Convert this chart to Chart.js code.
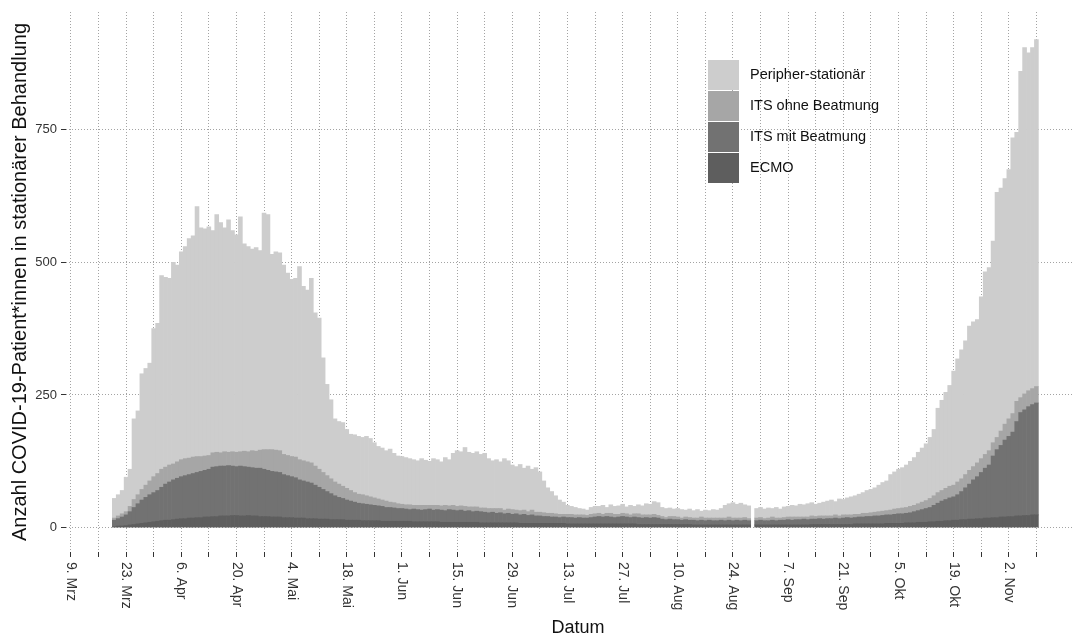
<!DOCTYPE html>
<html lang="de">
<head>
<meta charset="utf-8">
<title>COVID-19-Patient*innen in stationärer Behandlung</title>
<script src="https://cdn.jsdelivr.net/npm/chart.js@4.4.1/dist/chart.umd.min.js"></script>
<style>
  html, body { margin: 0; padding: 0; background: #ffffff; overflow: hidden; }
  #wrap { width: 1073px; height: 639px; overflow: hidden; }
</style>
</head>
<body>
<div id="wrap"><canvas id="chart" width="1090" height="639"></canvas></div>
<script>
// Tag 0 = 9. März 2020; die erste Tagesmeldung stammt vom 20. März (Tag 11).
// Am 29. August (Tag 173) fehlt die Meldung.
const FIRST_DAY = 11;

const ecmo = [
  2,3,3,4,5,6,7,8,9,10, 11,12,13,14,14,15,16,17,17,18,18,19,19,20,20,
  21,21,22,22,22,23,23,22,22,23,22,22,21,21,21,20,20,20,19,19,19,
  18,18,18,17,17,17,16,16,16,15,15,15,15,14,14,14,14,13,13,13,13,13,12,12,12,12,12,12,
  12,12,11,11,11,11,11,11,11,10,10,10,10,10,10,10,10,10,10,9,9,
  9,9,9,9,9,9,9,9,8,8,8,8,8,8,
  8,8,8,8,8,8,7,7,7,7,7,7,7,7,
  7,7,7,7,7,7,7,7,7,7,6,6,6,6,6,6,
  6,6,6,6,6,6,6,6,5,5,5,5,5,5,5,5,5,5,5,5,5,5,5,
  null,
  5,5,5,5,5,5,5,5,5,5,5,5,5,5,6,6,6,6,6,6,6,6,6,6,6,7,7,7,7,7,
  7,7,7,8,8,8,8,8,9,9,9,10,10,10,11,11,
  12,12,13,13,14,14,15,15,16,16,17,17,18,18,19,19,20,20,21,21,22,22,23,23,24,24
];

const itsMitBeatmung = [
  12,14,17,20,25,32,38,44,48,52, 55,58,63,68,72,75,77,79,81,82,84,85,87,88,90,
  93,94,94,94,95,93,92,94,93,91,91,90,91,89,87,86,85,84,81,79,77,
  76,72,70,69,67,63,60,56,52,49,45,42,40,38,36,34,32,32,31,30,29,28,28,26,26,25,24,24,
  23,22,24,23,22,23,24,22,23,23,22,24,23,22,23,21,22,20,21,21,20,
  19,20,18,19,17,18,16,17,16,17,15,16,14,14,
  13,13,12,12,11,12,12,12,11,12,11,11,12,13,
  14,13,14,13,12,13,14,13,12,13,13,12,13,12,13,12,
  10,9,10,9,9,8,9,8,9,8,9,8,9,8,8,9,8,9,8,9,8,9,8,
  null,
  8,9,8,8,9,8,9,9,10,9,10,10,11,10,10,10,11,10,11,11,12,11,12,13,12,12,13,13,14,14,
  15,15,16,16,16,17,18,18,18,19,21,22,24,26,27,31,
  34,38,40,43,44,48,53,60,66,74,79,87,94,100,116,128,135,145,151,159,178,195,199,205,208,211
];

const itsOhneBeatmung = [
  4,5,6,6,10,15,17,20,23,26, 30,32,34,32,32,30,31,32,32,31,31,30,28,27,26,
  27,27,25,27,25,27,27,27,29,29,32,32,34,37,39,41,41,41,38,38,38,
  39,38,38,38,38,36,34,32,30,28,26,25,23,22,20,18,17,17,16,15,14,13,12,12,10,10,9,8,
  8,9,7,8,9,8,7,9,8,8,10,7,9,8,8,9,7,9,8,7,8,
  8,7,9,8,7,8,9,7,8,8,7,9,7,7,
  7,6,7,6,6,5,6,6,6,5,6,5,6,6,
  6,5,6,7,6,5,6,6,5,6,7,6,5,6,6,5,
  5,4,5,6,5,4,5,5,4,5,6,5,4,5,5,4,5,6,5,4,5,5,4,
  null,
  5,5,4,5,6,5,4,5,5,6,5,5,4,5,6,5,5,6,5,5,6,5,6,5,6,6,5,7,6,7,
  7,8,8,8,9,10,10,11,11,12,12,13,14,15,17,18,
  20,20,21,22,22,24,24,25,26,25,26,26,26,27,25,23,27,30,33,35,38,28,30,30,30,31
];

const peripherStationaer = [
  37,40,44,65,70,152,158,218,220,222, 279,283,365,358,352,380,371,392,400,414,417,471,431,428,431,
  419,448,434,422,438,417,410,443,391,387,380,384,376,446,443,368,374,373,357,344,334,
  337,364,329,324,348,289,285,216,172,149,119,118,120,111,106,109,109,108,112,110,104,99,98,95,100,93,90,90,
  89,87,86,84,88,85,83,88,86,83,90,87,98,105,102,111,103,101,104,101,103,
  94,90,92,88,97,91,84,82,87,79,86,77,84,76,
  60,48,41,34,27,23,17,15,14,12,11,10,13,14,
  13,17,11,16,15,16,17,13,18,14,17,17,21,20,24,24,
  17,17,16,14,16,16,13,16,14,16,11,15,14,16,15,18,24,25,29,26,28,24,24,
  null,
  18,19,18,19,16,20,17,20,20,22,21,24,23,25,25,23,24,26,28,30,25,32,29,32,34,35,38,39,43,44,
  46,50,54,56,67,70,74,76,80,85,90,97,102,107,115,125,
  159,170,181,190,215,232,243,252,272,273,270,305,344,345,380,462,458,463,470,520,507,615,653,637,643,654
];

// Wöchentliche Achsenmarken (Tage ab 9. März), beschriftet wird jede zweite
const tickDays = [0,7,14,21,28,35,42,49,56,63,70,77,84,91,98,105,112,119,126,133,
                  140,147,154,161,168,175,182,189,196,203,210,217,224,231,238,245];
const tickLabels = ['9. Mrz','23. Mrz','6. Apr','20. Apr','4. Mai','18. Mai','1. Jun','15. Jun','29. Jun',
                    '13. Jul','27. Jul','10. Aug','24. Aug','7. Sep','21. Sep','5. Okt','19. Okt','2. Nov'];
const yTicks = [0, 250, 500, 750];

// Kalendertag jeder Tagessäule
const days = ecmo.map((_, i) => FIRST_DAY + i);

const FONT = "'Liberation Sans', Arial, Helvetica, sans-serif";
const GRID = '#a3a3a3';

// Datumsbeschriftung unter der x-Achse, von oben nach unten lesbar
const dateLabels = {
  id: 'dateLabels',
  afterDraw(chart) {
    const sx = chart.scales.x;
    const c = chart.ctx;
    c.save();
    c.font = '14px ' + FONT;
    c.fillStyle = '#333333';
    c.textAlign = 'left';
    c.textBaseline = 'middle';
    tickDays.forEach((d, i) => {
      if (i % 2 !== 0) return;
      const x = sx.getPixelForValue(d);
      c.save();
      c.translate(x, sx.top + 10);
      c.rotate(Math.PI / 2);
      c.fillText(tickLabels[i / 2], 0, 0);
      c.restore();
    });
    c.restore();
  }
};

// Legende oben rechts im Diagramm, oberste Schicht zuerst
const keyLegend = {
  id: 'keyLegend',
  afterDraw(chart) {
    const c = chart.ctx;
    const sets = chart.data.datasets.slice().reverse();
    c.save();
    c.font = '14.5px ' + FONT;
    c.textAlign = 'left';
    c.textBaseline = 'middle';
    sets.forEach((ds, k) => {
      const y = 60 + k * 31;
      c.fillStyle = ds.backgroundColor;
      c.fillRect(708, y, 31, 30);
      c.fillStyle = '#111111';
      c.fillText(ds.label, 750, y + 15);
    });
    c.restore();
  }
};

new Chart(document.getElementById('chart'), {
  type: 'bar',
  data: {
    labels: days,
    datasets: [
      { label: 'ECMO', data: ecmo, backgroundColor: '#5e5e5e' },
      { label: 'ITS mit Beatmung', data: itsMitBeatmung, backgroundColor: '#727272' },
      { label: 'ITS ohne Beatmung', data: itsOhneBeatmung, backgroundColor: '#a6a6a6' },
      { label: 'Peripher-stationär', data: peripherStationaer, backgroundColor: '#cdcdcd' }
    ]
  },
  options: {
    responsive: false,
    animation: false,
    events: [],
    layout: { padding: { top: 12, left: 0, right: 0, bottom: 0 } },
    datasets: { bar: { barPercentage: 1, categoryPercentage: 1, borderWidth: 0 } },
    plugins: { legend: { display: false }, tooltip: { enabled: false } },
    scales: {
      x: {
        type: 'linear',
        stacked: true,
        offset: false,
        min: -1.25,
        max: 258.6,
        afterBuildTicks: s => { s.ticks = tickDays.map(v => ({ value: v })); },
        ticks: { display: false },
        grid: { offset: false, color: GRID, lineWidth: 1, drawTicks: true, tickLength: 5,
                tickColor: '#333333', tickWidth: 1, tickBorderDash: [] },
        border: { display: false, dash: [1, 2] },
        title: { display: true, text: 'Datum', color: '#111111',
                 font: { family: FONT, size: 18 }, padding: { top: 0, bottom: 0 } },
        afterFit: s => { s.height = 87; }
      },
      y: {
        type: 'linear',
        stacked: true,
        min: -46,
        max: 972,
        afterBuildTicks: s => { s.ticks = yTicks.map(v => ({ value: v })); },
        ticks: { color: '#333333', padding: 4, font: { family: FONT, size: 13 } },
        grid: { color: GRID, lineWidth: 1, drawTicks: true, tickLength: 5,
                tickColor: '#333333', tickWidth: 1, tickBorderDash: [] },
        border: { display: false, dash: [1, 2] },
        title: { display: true, text: 'Anzahl COVID-19-Patient*innen in stationärer Behandlung',
                 color: '#111111', font: { family: FONT, size: 20 }, padding: { top: 8, bottom: 0 } },
        afterFit: s => { s.width = 66; }
      }
    }
  },
  plugins: [dateLabels, keyLegend]
});
</script>
</body>
</html>
